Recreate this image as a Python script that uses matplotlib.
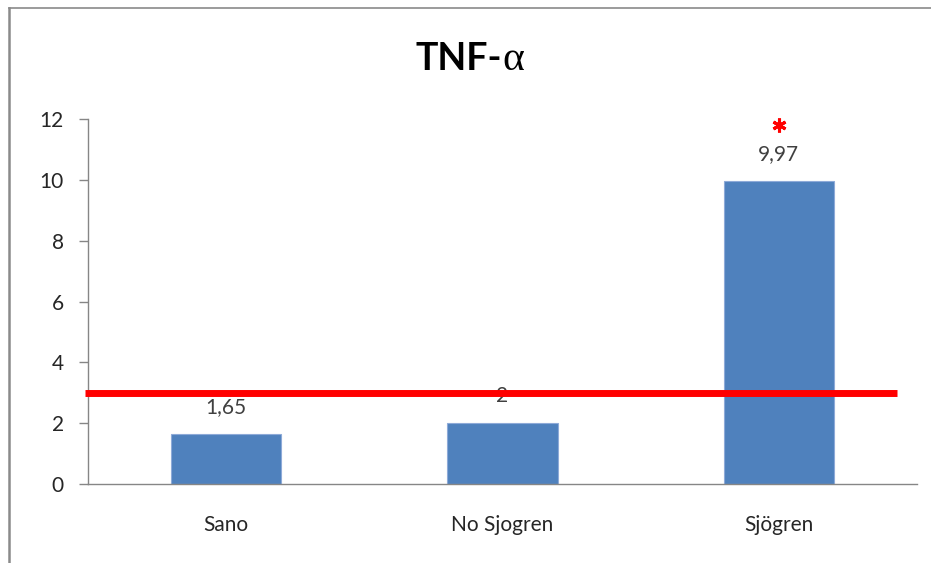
import matplotlib
matplotlib.use("Agg")
import matplotlib.pyplot as plt
from matplotlib.lines import Line2D
from matplotlib.transforms import offset_copy

plt.rcParams['font.family'] = ['Lato', 'DejaVu Sans']

# data
categories = ["Sano", "No Sjogren", "Sjögren"]
values = [1.65, 2, 9.97]
value_labels = ["1,65", "2", "9,97"]
significant = [False, False, True]
threshold = 3
yticks = [0, 2, 4, 6, 8, 10, 12]

W, H = 931, 563
fig = plt.figure(figsize=(W / 100, H / 100), dpi=100)

# axes placed in pixel coords
x0, x1 = 88, 917
ytop, ybot = 119, 484
ax = fig.add_axes([x0 / W, (H - ybot) / H, (x1 - x0) / W, (ybot - ytop) / H])

pos = list(range(len(categories)))
ax.bar(pos, values, width=0.4, color='#4f81bd', edgecolor='#8eaad8', linewidth=0.8, zorder=2)
ax.set_xlim(-0.5, len(categories) - 0.5)
ax.set_ylim(0, 12)

ax.set_yticks(yticks)
ax.set_yticklabels([str(v) for v in yticks])
ax.set_xticks(pos)
ax.set_xticklabels(categories)

axis_col = '#868686'
for s in ['top', 'right']:
    ax.spines[s].set_visible(False)
for s in ['left', 'bottom']:
    ax.spines[s].set_color(axis_col)
    ax.spines[s].set_linewidth(1.0)
ax.tick_params(axis='y', direction='out', length=6.5, width=1, color=axis_col,
               pad=11, labelsize=15, labelcolor='#262626')
ax.tick_params(axis='x', length=0, pad=22, labelsize=15, labelcolor='#262626')

# value labels above bars, asterisk for the significant one
star_tr = offset_copy(ax.transData, fig=fig, x=0, y=40, units='points')
for p, v, lab, sig in zip(pos, values, value_labels, significant):
    ax.annotate(lab, (p, v), xytext=(0, 19.5), textcoords='offset points',
                ha='center', va='center', fontsize=15, color='#404040', zorder=3)
    if sig:
        ax.plot([p], [v], marker=(6, 2, 0), markersize=10, markeredgewidth=2.2,
                color='#ff0000', transform=star_tr, clip_on=False, zorder=3)

# threshold line
ax.plot([-0.511, 2.428], [threshold, threshold], color='#ff0000', lw=5,
        solid_capstyle='butt', clip_on=False, zorder=5)

# title: bold "TNF-" followed by a serif alpha
t1 = fig.text(415 / W, (H - 70) / H, "TNF-", ha='left', va='baseline',
              fontsize=27, fontweight='bold', color='black')
fig.canvas.draw()
bb = t1.get_window_extent()
fig.text(bb.x1 / W + 1 / W, (H - 70) / H, "α", ha='left', va='baseline',
         fontsize=30, family=['Liberation Serif', 'DejaVu Serif'], color='black')

# chart frame
fig.add_artist(Line2D([9 / W, 9 / W], [0, (H - 7.5) / H], color='#8a8a8a', lw=1.8,
                      transform=fig.transFigure))
fig.add_artist(Line2D([9 / W, 1], [(H - 7.5) / H, (H - 7.5) / H], color='#8a8a8a',
                      lw=1.2, transform=fig.transFigure))

fig.savefig('out.png', dpi=100)
